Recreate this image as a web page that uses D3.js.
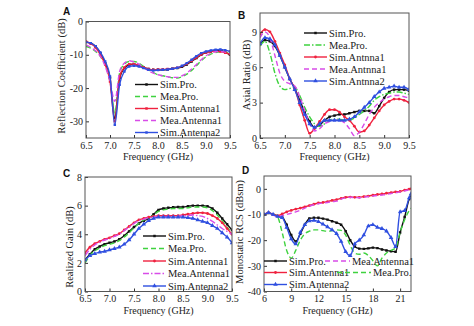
<!DOCTYPE html>
<html>
<head>
<meta charset="utf-8">
<script src="https://cdn.jsdelivr.net/npm/d3@7"></script>
<style>
  body { margin: 0; background: #fff; }
  svg { display: block; }
</style>
</head>
<body>
<svg id="chart" width="474" height="326"></svg>
<script>
// ---- data ----
const freqABC = [6.5,6.6,6.7,6.8,6.9,7.0,7.1,7.2,7.3,7.4,7.5,7.6,7.7,7.8,7.9,8.0,8.1,8.2,8.3,8.4,8.5,8.6,8.7,8.8,8.9,9.0,9.1,9.2,9.3,9.4,9.5];
const freqD = [6,6.5,7,7.5,8,8.5,9,9.5,10,10.5,11,11.5,12,12.5,13,13.5,14,14.5,15,15.5,16,16.5,17,17.5,18,18.5,19,19.5,20,20.5,21,21.5,22,22.2];

const legendAC = ["Sim.Pro.","Mea.Pro.","Sim.Antenna1","Mea.Antenna1","Sim.Antenna2"];
const legendB = ["Sim.Pro.","Mea.Pro.","Sim.Antnna1","Mea.Antnna1","Sim.Antnna2"];

const ticksABC = [6.5,7.0,7.5,8.0,8.5,9.0,9.5];
const ticksD = [6,9,12,15,18,21];

// A: reflection coefficient (dB)
const simProA  = [-6.2,-6.5,-7.5,-9.5,-12.5,-17,-29,-17,-14,-13,-12.8,-13.3,-13.8,-14.3,-14.5,-14.5,-14.5,-14.4,-14.2,-14.0,-13.6,-12.9,-12.0,-11.0,-10.0,-9.3,-9.0,-8.8,-8.8,-9.2,-10.0];
const meaProA  = [-7.5,-8,-9,-10.5,-13,-18,-27.5,-15.5,-12.8,-12,-12,-12.5,-13.5,-14.5,-15.3,-16,-16.3,-16.6,-16.9,-17,-16.6,-15.8,-14.7,-13.3,-11.8,-10.6,-9.8,-9.3,-9.1,-9.3,-9.7];
const simAnt1A = [-6.0,-6.7,-7.8,-10,-13,-18,-30,-16.5,-13.8,-12.8,-12.8,-13.2,-13.8,-14.3,-14.5,-14.4,-14.4,-14.3,-14.2,-13.9,-13.4,-12.7,-11.8,-10.8,-9.9,-9.3,-9.0,-8.9,-9.0,-9.4,-9.8];
const meaAnt1A = [-7.0,-7.8,-8.8,-10.5,-13.5,-18,-24,-15,-12.5,-11.8,-12.2,-12.8,-13.8,-14.8,-15.5,-16,-16.3,-16.6,-16.8,-16.8,-16.3,-15.5,-14.3,-12.9,-11.5,-10.3,-9.6,-9.1,-9.0,-9.2,-9.5];
const simAnt2A = [-6.2,-6.5,-7.4,-9.3,-12,-16.5,-31,-19,-15,-13.5,-13.3,-13.5,-14,-14.5,-14.7,-14.6,-14.5,-14.4,-14.2,-13.9,-13.3,-12.5,-11.5,-10.4,-9.5,-9.0,-8.7,-8.5,-8.4,-8.6,-9.0];

// B: axial ratio (dB)
const simProB  = [7.9,8.3,8.2,7.8,7.0,6.0,5.0,4.2,3.2,2.2,1.4,0.9,1.1,1.5,1.8,1.9,2.0,2.0,2.1,2.2,2.3,2.3,2.3,2.1,2.7,3.4,3.9,4.1,4.1,4.1,4.0];
const meaProB  = [7.8,8.2,7.2,5.5,4.4,4.1,4.2,4.3,3.6,2.6,1.8,1.2,1.0,1.2,1.5,1.6,1.6,1.5,1.5,1.7,2.0,2.3,2.7,3.2,3.5,3.7,3.8,3.9,3.9,3.8,3.7];
const simAnt1B = [8.8,9.2,9.0,8.2,7.2,6.2,5.0,4.2,2.8,1.5,0.4,0.8,1.4,2.0,2.4,2.4,2.2,1.8,1.5,1.0,0.5,0.6,1.1,1.7,2.3,2.8,3.1,3.3,3.3,3.2,3.0];
const meaAnt1B = [8.5,9.0,8.5,7.0,5.5,4.8,4.6,4.4,3.5,2.3,1.2,0.6,0.8,1.2,1.4,1.5,1.5,1.3,0.8,0.2,0.5,1.2,2.0,2.6,3.0,3.3,3.5,3.6,3.6,3.5,3.4];
const simAnt2B = [8.0,8.5,8.4,7.9,7.0,6.0,5.0,4.1,3.0,2.0,1.2,0.9,1.2,1.5,1.5,1.5,1.5,1.5,1.6,1.8,2.2,2.6,3.0,3.5,3.9,4.2,4.3,4.4,4.3,4.3,4.1];

// C: realized gain (dB)
const simProC  = [2.2,2.6,2.95,3.15,3.3,3.4,3.5,3.65,3.9,4.2,4.5,4.75,4.95,5.1,5.4,5.7,5.8,5.85,5.88,5.9,5.9,5.95,6.0,6.0,6.0,5.95,5.8,5.5,5.1,4.7,4.3];
const meaProC  = [2.0,2.5,2.85,3.05,3.2,3.3,3.4,3.55,3.8,4.1,4.45,4.75,5.0,5.1,5.35,5.6,5.7,5.75,5.8,5.8,5.8,5.85,5.9,5.9,5.9,5.85,5.65,5.35,4.95,4.5,4.1];
const simAnt1C = [2.7,3.1,3.35,3.5,3.65,3.75,3.9,4.05,4.3,4.55,4.8,5.0,5.1,5.2,5.25,5.3,5.3,5.3,5.3,5.3,5.35,5.4,5.45,5.5,5.5,5.45,5.3,5.1,4.8,4.4,4.0];
const meaAnt1C = [2.5,2.95,3.25,3.45,3.6,3.7,3.85,4.0,4.25,4.5,4.75,4.95,5.05,5.15,5.2,5.25,5.25,5.25,5.25,5.25,5.3,5.3,5.35,5.3,5.25,5.1,4.9,4.65,4.4,4.2,4.0];
const simAnt2C = [2.2,2.5,2.65,2.75,2.8,2.9,3.0,3.1,3.3,3.6,4.0,4.4,4.7,4.95,5.1,5.2,5.2,5.2,5.2,5.2,5.2,5.15,5.1,5.0,4.9,4.8,4.6,4.4,4.1,3.8,3.4];

// D: monostatic RCS (dBsm)
const simProD  = [-10,-9.4,-10,-10.6,-11,-14,-18,-20.5,-17.5,-14,-11.5,-11.3,-11.3,-11.6,-12,-12.6,-13.2,-14,-16.5,-20,-22.5,-23.3,-23.4,-23.2,-22.9,-23.1,-23.6,-24,-24.3,-24.5,-17,-11,-4,-2.5];
const meaProD  = [-10,-9.5,-10,-11,-17,-24,-27,-24,-20,-17.5,-16.5,-16,-16,-16.3,-16.5,-16.3,-16,-16.2,-18,-22,-25,-25.5,-25,-26,-28,-30,-27,-25,-24,-23,-17,-12,-8.5,-7.5];
const simAnt1D = [-10,-9.3,-10,-10.5,-9.8,-9,-8.4,-7.9,-7.5,-7,-6.5,-6,-5.5,-5.3,-5,-4.5,-4.2,-3.7,-3.3,-3.2,-3.3,-3.3,-3,-2.8,-2.5,-2.2,-2,-1.7,-1.5,-1.2,-1,-0.5,-0.1,0];
const meaAnt1D = [-10,-9.5,-10.2,-10.8,-10.5,-10,-9.5,-9,-8.3,-7.5,-6.8,-6.2,-5.8,-5.5,-5.3,-5,-4.8,-4,-3.5,-3.3,-3.4,-3.5,-3.2,-3,-2.8,-2.6,-2.4,-2.2,-1.8,-1.5,-1.2,-0.8,-0.4,-0.2];
const simAnt2D = [-10,-9.3,-10,-10.8,-11.2,-15,-19.5,-21.5,-17,-14,-12.5,-12.3,-12.8,-13.8,-14.8,-16,-17.5,-20.5,-24.5,-26,-21.5,-20,-18,-14.5,-14,-15,-15.5,-16.5,-19,-22.5,-9,-8.5,-3.5,-2];

// ---- styles ----
const colors = ["#111111", "#3fd23f", "#f0223f", "#d84ce8", "#2f4fe0"];
const DASH = "5,3", DASHDOT = "6,2,1.5,2";
const SERIF = "'Liberation Serif', 'Times New Roman', serif";

const svg = d3.select("#chart");

function marker(g, type, color, cx, cy) {
  if (!type) return;
  const sym = type === "square" ? d3.symbolSquare : type === "circle" ? d3.symbolCircle : d3.symbolTriangle;
  const size = type === "triangle" ? 9 : 6;
  g.append("path")
    .attr("d", d3.symbol().type(sym).size(size)())
    .attr("transform", `translate(${cx},${cy})`)
    .attr("fill", color);
}

function drawPanel(p) {
  const x = d3.scaleLinear().domain(p.xDomain).range([p.left, p.right]);
  const y = d3.scaleLinear().domain(p.yDomain).range([p.bottom, p.top]);
  const g = svg.append("g");

  g.append("clipPath").attr("id", "clip" + p.id)
    .append("rect")
    .attr("x", p.left).attr("y", p.top)
    .attr("width", p.right - p.left).attr("height", p.bottom - p.top);

  const plot = g.append("g").attr("clip-path", `url(#clip${p.id})`);

  p.series.forEach((vals, i) => {
    const line = d3.line()
      .x((d, j) => x(p.freq[j]))
      .y(d => y(d))
      .curve(d3.curveMonotoneX);
    plot.append("path")
      .datum(vals)
      .attr("d", line)
      .attr("fill", "none")
      .attr("stroke", colors[i])
      .attr("stroke-width", 1.4)
      .attr("stroke-dasharray", p.dashes[i]);
    vals.forEach((v, j) => marker(plot, p.markers[i], colors[i], x(p.freq[j]), y(v)));
  });

  // axes with inward ticks
  const xAxis = g.append("g")
    .attr("transform", `translate(0,${p.bottom})`)
    .call(d3.axisBottom(x).tickValues(p.xTicks).tickFormat(p.xFmt).tickSizeInner(-3).tickSizeOuter(0).tickPadding(3.5));
  const yAxis = g.append("g")
    .attr("transform", `translate(${p.left},0)`)
    .call(d3.axisLeft(y).tickValues(p.yTicks).tickFormat(d => d < 0 ? "-" + Math.abs(d) : d).tickSizeInner(-3).tickSizeOuter(0).tickPadding(3));
  [xAxis, yAxis].forEach(a => {
    a.attr("font-family", null);
    a.select(".domain").remove();
    a.selectAll(".tick line").attr("stroke", "#333");
    a.selectAll("text")
      .style("font-family", SERIF).style("font-size", "10px").attr("fill", "#222");
  });

  g.append("rect")
    .attr("x", p.left).attr("y", p.top)
    .attr("width", p.right - p.left).attr("height", p.bottom - p.top)
    .attr("fill", "none").attr("stroke", "#555").attr("stroke-width", 1);

  // labels
  g.append("text")
    .attr("x", (p.left + p.right) / 2).attr("y", p.xLabelY)
    .attr("text-anchor", "middle")
    .style("font-family", SERIF).style("font-size", "10px").attr("fill", "#222")
    .text("Frequency (GHz)");
  g.append("text")
    .attr("transform", `translate(${p.yLabelX},${p.yLabelCY}) rotate(-90)`)
    .attr("text-anchor", "middle")
    .style("font-family", SERIF).style("font-size", "10.5px").attr("fill", "#222")
    .text(p.yLabel);
  g.append("text")
    .attr("x", p.titleX).attr("y", p.titleY)
    .style("font-family", "'Liberation Sans', Arial, sans-serif")
    .style("font-weight", "bold").style("font-size", "10px").attr("fill", "#111")
    .text(p.id);

  // legend
  p.legend.forEach(l => {
    const i = l.idx;
    g.append("line")
      .attr("x1", l.x1).attr("x2", l.x2).attr("y1", l.y).attr("y2", l.y)
      .attr("stroke", colors[i]).attr("stroke-width", 1.4)
      .attr("stroke-dasharray", p.dashes[i]);
    marker(g, p.markers[i], colors[i], (l.x1 + l.x2) / 2, l.y);
    g.append("text")
      .attr("x", l.x2 + 2).attr("y", l.y).attr("dy", "0.35em")
      .style("font-family", SERIF).style("font-size", "10.5px").attr("fill", "#222")
      .text(l.label);
  });
}

function stackLegend(labels, x1, x2, y0, dy) {
  return labels.map((label, i) => ({ label, idx: i, x1, x2, y: y0 + i * dy }));
}

const fmt1 = d3.format(".1f");

drawPanel({
  id: "A", left: 86, right: 230, top: 21.5, bottom: 138,
  xDomain: [6.5, 9.5], yDomain: [-35, 0], freq: freqABC,
  xTicks: ticksABC, xFmt: fmt1, yTicks: [0, -10, -20, -30],
  series: [simProA, meaProA, simAnt1A, meaAnt1A, simAnt2A],
  dashes: [null, DASH, null, DASH, null],
  markers: ["square", null, "square", null, "square"],
  yLabel: "Reflection Coefficient (dB)", yLabelX: 65, yLabelCY: 76,
  xLabelY: 160, titleX: 63, titleY: 15,
  legend: stackLegend(legendAC, 135, 158, 84.5, 12)
});

drawPanel({
  id: "B", left: 260, right: 409, top: 13, bottom: 138,
  xDomain: [6.5, 9.5], yDomain: [0, 10.6], freq: freqABC,
  xTicks: ticksABC, xFmt: fmt1, yTicks: [0, 3, 6, 9],
  series: [simProB, meaProB, simAnt1B, meaAnt1B, simAnt2B],
  dashes: [null, DASHDOT, null, DASH, null],
  markers: ["square", null, "circle", null, "triangle"],
  yLabel: "Axial Ratio (dB)", yLabelX: 250, yLabelCY: 75,
  xLabelY: 160, titleX: 238, titleY: 19,
  legend: stackLegend(legendB, 304, 327, 33, 12)
});

drawPanel({
  id: "C", left: 85, right: 232, top: 177, bottom: 291.5,
  xDomain: [6.5, 9.5], yDomain: [0, 8], freq: freqABC,
  xTicks: ticksABC, xFmt: fmt1, yTicks: [0, 2, 4, 6, 8],
  series: [simProC, meaProC, simAnt1C, meaAnt1C, simAnt2C],
  dashes: [null, DASH, null, DASHDOT, null],
  markers: ["square", null, "circle", null, "triangle"],
  yLabel: "Realized Gain (dB)", yLabelX: 73, yLabelCY: 247,
  xLabelY: 314, titleX: 63, titleY: 177,
  legend: stackLegend(legendAC, 143, 166, 236, 12.5)
});

drawPanel({
  id: "D", left: 264, right: 411, top: 176, bottom: 291.5,
  xDomain: [6, 22.2], yDomain: [-40, 5], freq: freqD,
  xTicks: ticksD, xFmt: d3.format("d"), yTicks: [0, -10, -20, -30, -40],
  series: [simProD, meaProD, simAnt1D, meaAnt1D, simAnt2D],
  dashes: [null, DASH, null, DASH, null],
  markers: ["square", null, "circle", null, "triangle"],
  yLabel: "Monostatic RCS (dBsm)", yLabelX: 243, yLabelCY: 232,
  xLabelY: 314, titleX: 242, titleY: 174,
  legend: [
    { label: legendAC[0], idx: 0, x1: 264, x2: 287, y: 261 },
    { label: legendAC[3], idx: 3, x1: 325, x2: 350, y: 261 },
    { label: legendAC[2], idx: 2, x1: 264, x2: 287, y: 272.5 },
    { label: legendAC[1], idx: 1, x1: 337, x2: 371, y: 272.5 },
    { label: legendAC[4], idx: 4, x1: 264, x2: 287, y: 284.5 }
  ]
});
</script>
</body>
</html>
